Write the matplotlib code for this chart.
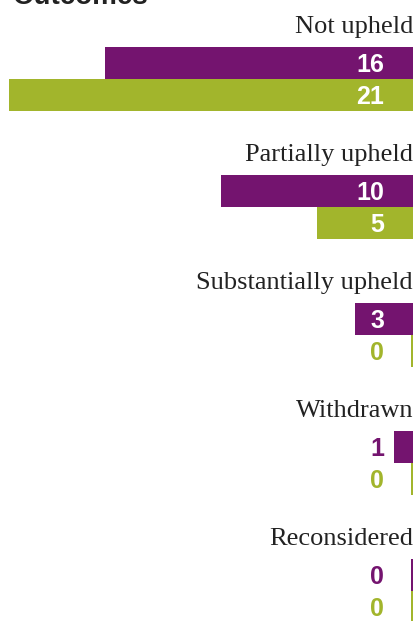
import numpy as np
import matplotlib.pyplot as plt

categories = ["Not upheld", "Partially upheld", "Substantially upheld", "Withdrawn", "Reconsidered"]
series_a = [16, 10, 3, 1, 0]   # purple
series_b = [21, 5, 0, 0, 0]    # green
title = "Outcomes"

purple = "#74146f"
green = "#a2b52c"

fig = plt.figure(figsize=(4.17, 6.21), dpi=100)
ax = fig.add_axes([0, 0, 1, 1])

# layout in pixel-like units down the page
step = 128
label_base = 33
bar_h = 32
pos = np.arange(len(categories)) * step
ya = pos + 47 + bar_h / 2
yb = pos + 47 + bar_h + bar_h / 2

a = np.array(series_a, dtype=float)
b = np.array(series_b, dtype=float)
ax.barh(ya, np.maximum(a, 0.12), height=bar_h, color=purple, linewidth=0)
ax.barh(yb, np.maximum(b, 0.12), height=bar_h, color=green, linewidth=0)

lab_x = 1.5
for y, v in zip(ya, a):
    ax.text(lab_x, y + 2.5, f"{int(v)}", ha="right", va="center", fontsize=18,
            fontweight="bold", family="Liberation Sans",
            color="white" if v >= 2 else purple)
for y, v in zip(yb, b):
    ax.text(lab_x, y + 2.5, f"{int(v)}", ha="right", va="center", fontsize=18,
            fontweight="bold", family="Liberation Sans",
            color="white" if v >= 2 else green)

for p, c in zip(pos, categories):
    ax.text(0, p + label_base, c, ha="right", va="baseline", fontsize=19,
            family="Liberation Serif", color="#222222")

ax.set_xlim(413 / 19.24, -4 / 19.24)
ax.set_ylim(621, 0)
ax.axis("off")

fig.text(13 / 417, 1 - 4 / 621, title, ha="left", va="baseline", fontsize=20,
         fontweight="bold", family="Liberation Sans", color="#222222")

fig.savefig("out.png", dpi=100)
